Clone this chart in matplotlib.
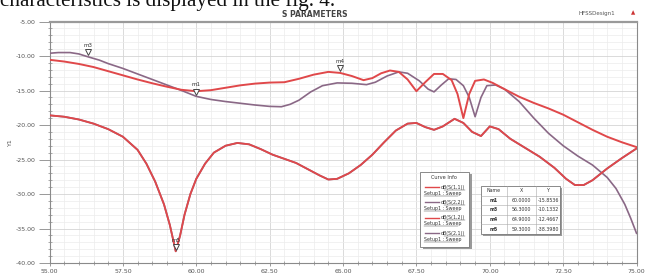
import matplotlib
matplotlib.use("Agg")
import matplotlib.pyplot as plt
import matplotlib.transforms as mtransforms
from matplotlib.patches import Rectangle
from matplotlib.ticker import MultipleLocator, FormatStrFormatter

# ------------------------------------------------------------------
# Data
# ------------------------------------------------------------------
freq_s11 = [55.0, 55.5, 56.0, 56.5, 57.0, 57.5, 58.0, 58.5, 59.0, 59.5,
            60.0, 60.5, 61.0, 61.5, 62.0, 62.5, 63.0, 63.5, 64.0, 64.5,
            64.9, 65.3, 65.7, 66.0, 66.3, 66.6, 66.9, 67.2, 67.5, 67.8,
            68.1, 68.4, 68.7, 68.9, 69.1, 69.3, 69.5, 69.8, 70.1, 70.5,
            71.0, 71.5, 72.0, 72.5, 73.0, 73.5, 74.0, 74.5, 75.0]
db_s11 = [-10.55, -10.8, -11.15, -11.6, -12.2, -12.8, -13.4, -13.95, -14.45, -14.9,
          -15.1, -14.95, -14.6, -14.25, -14.0, -13.85, -13.8, -13.3, -12.7, -12.3,
          -12.45, -12.9, -13.5, -13.2, -12.5, -12.1, -12.3, -13.4, -15.1, -13.8,
          -12.6, -12.6, -13.5, -15.5, -19.0, -15.5, -13.6, -13.4, -13.9, -14.8,
          -15.9, -16.8, -17.6, -18.5, -19.6, -20.7, -21.7, -22.5, -23.2]

freq_s22 = [55.0, 55.3, 55.7, 56.0, 56.3, 56.7, 57.0, 57.5, 58.0, 58.5,
            59.0, 59.5, 60.0, 60.5, 61.0, 61.5, 62.0, 62.5, 62.9, 63.2,
            63.5, 63.9, 64.3, 64.8, 65.3, 65.8, 66.1, 66.5, 66.9, 67.2,
            67.6, 67.9, 68.1, 68.35, 68.6, 68.85, 69.1, 69.3, 69.5, 69.7,
            69.9, 70.2, 70.5, 71.0, 71.5, 72.0, 72.5, 73.0, 73.5, 74.0,
            74.3, 74.6, 74.8, 75.0]
db_s22 = [-9.6, -9.5, -9.5, -9.7, -10.1, -10.6, -11.1, -11.8, -12.6, -13.4,
          -14.2, -15.0, -15.85, -16.3, -16.6, -16.85, -17.1, -17.3, -17.35, -17.0,
          -16.4, -15.2, -14.3, -13.9, -13.95, -14.15, -13.8, -12.9, -12.3, -12.5,
          -13.6, -14.8, -15.2, -14.2, -13.3, -13.4, -14.3, -16.0, -18.8, -16.0,
          -14.3, -14.2, -14.8, -16.6, -19.0, -21.2, -23.0, -24.5, -25.8, -27.6,
          -29.2, -31.5, -33.5, -35.7]

freq_s12 = [55.0, 55.5, 56.0, 56.5, 57.0, 57.5, 58.0, 58.3, 58.6, 58.9,
            59.1, 59.3, 59.45, 59.6, 59.8, 60.0, 60.3, 60.6, 61.0, 61.4,
            61.8, 62.2, 62.6, 63.0, 63.4, 63.8, 64.2, 64.5, 64.8, 65.2,
            65.6, 66.0, 66.4, 66.8, 67.2, 67.5, 67.8, 68.1, 68.4, 68.8,
            69.1, 69.4, 69.7, 70.0, 70.3, 70.7, 71.2, 71.7, 72.2, 72.6,
            72.9, 73.2, 73.5, 74.0, 74.5, 75.0]
db_s12 = [-18.6, -18.8, -19.2, -19.8, -20.6, -21.7, -23.6, -25.6, -28.2, -31.5,
          -34.5, -38.3, -36.0, -33.0, -30.0, -27.8, -25.6, -24.0, -23.0, -22.6,
          -22.8, -23.5, -24.3, -24.9, -25.5, -26.4, -27.3, -27.9, -27.8, -27.0,
          -25.8, -24.3, -22.5, -20.8, -19.8, -19.7, -20.3, -20.7, -20.2, -19.1,
          -19.7, -21.0, -21.6, -20.2, -20.6, -22.0, -23.3, -24.6, -26.2, -27.8,
          -28.7, -28.7, -28.0, -26.3, -24.8, -23.4]

# reciprocal network: S21 sits on top of S12
freq_s21 = freq_s12
db_s21 = db_s12

marker_names = ["m1", "m3", "m4", "m5"]
marker_x = [60.0000, 56.3000, 64.9000, 59.3000]
marker_y = [-15.8536, -10.1332, -12.4667, -38.3980]

curve_names = ["dB(S(1,1))", "dB(S(2,2))", "dB(S(1,2))", "dB(S(2,1))"]

red = "#e0484a"
purple = "#8a6886"
curve_colors = [red, purple, red, purple]

# ------------------------------------------------------------------
# Figure
# ------------------------------------------------------------------
fig = plt.figure(figsize=(6.49, 2.73), dpi=100)
ax = fig.add_axes([0.0763, 0.0366, 0.9045, 0.8846])

ax.plot(freq_s21, db_s21, color=purple, linewidth=1.3, zorder=3)
ax.plot(freq_s22, db_s22, color=purple, linewidth=1.2, zorder=3)
ax.plot(freq_s12, db_s12, color=red, linewidth=1.3, zorder=4)
ax.plot(freq_s11, db_s11, color=red, linewidth=1.4, zorder=4)

# markers: small open triangles sitting just above the curve
tri_shift = ax.transData + mtransforms.ScaledTranslation(0, 3.5 / 72, fig.dpi_scale_trans)
for name, mx, my in zip(marker_names, marker_x, marker_y):
    ax.plot([mx], [my], linestyle="none", marker="v", markersize=4,
            markerfacecolor="white", markeredgecolor="#444444",
            markeredgewidth=0.7, zorder=6, transform=tri_shift)
    ax.annotate(name, xy=(mx, my), xytext=(0, 6.5), textcoords="offset points",
                ha="center", va="bottom", fontsize=4, color="#333333", zorder=7)

ax.set_xlim(55, 75)
ax.set_ylim(-40, -5)
ax.xaxis.set_major_locator(MultipleLocator(2.5))
ax.xaxis.set_minor_locator(MultipleLocator(0.5))
ax.yaxis.set_major_locator(MultipleLocator(5))
ax.yaxis.set_minor_locator(MultipleLocator(1))
ax.xaxis.set_major_formatter(FormatStrFormatter("%.2f"))
ax.yaxis.set_major_formatter(FormatStrFormatter("%.2f"))

ax.grid(True, which="major", color="#d4d4d4", linewidth=0.6)
ax.grid(True, which="minor", color="#ececec", linewidth=0.5)
ax.set_axisbelow(True)

ax.tick_params(axis="y", which="major", direction="out", length=8,
               width=0.6, color="#888888", labelsize=4.5, labelcolor="#555555", pad=2)
ax.tick_params(axis="y", which="minor", direction="inout", length=3.5,
               width=0.5, color="#888888")
ax.tick_params(axis="x", which="major", direction="out", length=2.5,
               width=0.6, color="#888888", labelsize=4.5, labelcolor="#555555", pad=1.5)
ax.tick_params(axis="x", which="minor", direction="inout", length=2.5,
               width=0.5, color="#888888")

for side in ["left", "bottom", "right"]:
    ax.spines[side].set_color("#8a8a8a")
    ax.spines[side].set_linewidth(0.8)
ax.spines["top"].set_color("#9a9a9a")
ax.spines["top"].set_linewidth(1.6)

ax.set_ylabel("Y1", fontsize=4.5, color="#555555")
ax.yaxis.set_label_coords(-0.062, 0.5)

# titles
fig.text(0.485, 0.948, "S PARAMETERS", ha="center", va="center",
         fontsize=5.5, fontweight="bold", color="#444444")
fig.text(0.92, 0.952, "HFSSDesign1", ha="center", va="center",
         fontsize=4, color="#555555")
fig.text(0.975, 0.955, "\u25b2", ha="center", va="center",
         fontsize=4, color="#cc3333")

# text from the page above the figure (its top is cut off by the crop)
fig.text(0.0, 0.9775, "characteristics is displayed in the fig. 4.",
         ha="left", va="baseline", fontsize=15.2, family="Liberation Serif",
         color="#111111")

# ------------------------------------------------------------------
# Curve info box
# ------------------------------------------------------------------
lg = fig.add_axes([0.647, 0.095, 0.0755, 0.275])
lg.set_xlim(0, 1)
lg.set_ylim(0, 1)
lg.axis("off")
lg.add_patch(Rectangle((0.06, -0.03), 1.0, 1.0, facecolor="#9a9a9a",
                       edgecolor="none", transform=lg.transAxes, clip_on=False))
lg.add_patch(Rectangle((0, 0), 1, 1, facecolor="white", edgecolor="#777777",
                       linewidth=0.6, transform=lg.transAxes, clip_on=False))
lg.text(0.5, 0.92, "Curve Info", ha="center", va="center", fontsize=3.6,
        color="#333333")
for i, (name, c) in enumerate(zip(curve_names, curve_colors)):
    y1 = 0.80 - i * 0.205
    y2 = y1 - 0.08
    lg.plot([0.1, 0.38], [y1, y1], color=c, linewidth=1.0)
    lg.text(0.93, y1, name, ha="right", va="center", fontsize=3.4, color="#333333")
    lg.plot([0.5, 0.93], [y1 - 0.035, y1 - 0.035], color="#333333", linewidth=0.3)
    lg.text(0.08, y2, "Setup1 : Sweep", ha="left", va="center", fontsize=3.4,
            color="#333333")
    lg.plot([0.08, 0.78], [y2 - 0.035, y2 - 0.035], color="#333333", linewidth=0.3)

# ------------------------------------------------------------------
# Marker table
# ------------------------------------------------------------------
tb = fig.add_axes([0.741, 0.143, 0.122, 0.176])
tb.set_xlim(0, 1)
tb.set_ylim(0, 1)
tb.axis("off")
tb.add_patch(Rectangle((0.03, -0.05), 1.0, 1.0, facecolor="#9a9a9a",
                       edgecolor="none", transform=tb.transAxes, clip_on=False))
tb.add_patch(Rectangle((0, 0), 1, 1, facecolor="white", edgecolor="#777777",
                       linewidth=0.6, transform=tb.transAxes, clip_on=False))
col_edges = [0.0, 0.325, 0.70, 1.0]
n_rows = len(marker_names) + 1
for xe in col_edges[1:-1]:
    tb.plot([xe, xe], [0, 1], color="#aaaaaa", linewidth=0.4)
for r in range(1, n_rows):
    tb.plot([0, 1], [r / n_rows, r / n_rows], color="#aaaaaa", linewidth=0.4)
headers = ["Name", "X", "Y"]
for j, h in enumerate(headers):
    tb.text((col_edges[j] + col_edges[j + 1]) / 2, 1 - 0.5 / n_rows, h,
            ha="center", va="center", fontsize=3.4, color="#333333")
for i, (name, mx, my) in enumerate(zip(marker_names, marker_x, marker_y)):
    yc = 1 - (i + 1.5) / n_rows
    tb.text((col_edges[0] + col_edges[1]) / 2, yc, name, ha="center",
            va="center", fontsize=3.4, fontweight="bold", color="#333333")
    tb.text((col_edges[1] + col_edges[2]) / 2, yc, f"{mx:.4f}", ha="center",
            va="center", fontsize=3.4, color="#333333")
    tb.text((col_edges[2] + col_edges[3]) / 2, yc, f"{my:.4f}", ha="center",
            va="center", fontsize=3.4, color="#333333")

fig.savefig("out.png", dpi=100)
